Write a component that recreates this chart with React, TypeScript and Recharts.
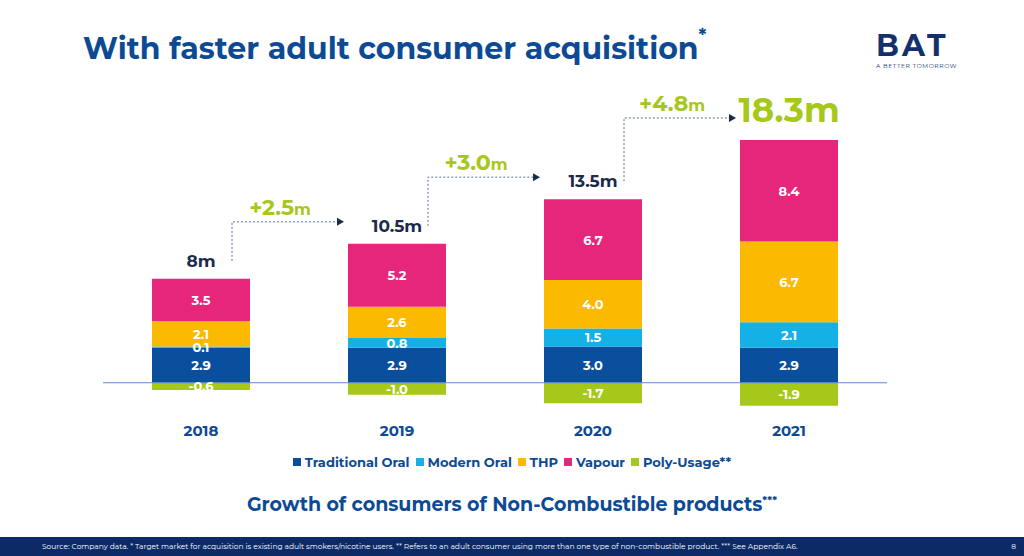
import { BarChart, Bar, XAxis, YAxis, ReferenceLine, LabelList } from 'recharts';

const years = ['2018', '2019', '2020', '2021'];
const traditionalOral = [2.9, 2.9, 3.0, 2.9];
const modernOral = [0.1, 0.8, 1.5, 2.1];
const thp = [2.1, 2.6, 4.0, 6.7];
const vapour = [3.5, 5.2, 6.7, 8.4];
const polyUsage = [-0.6, -1.0, -1.7, -1.9];
const totals = ['8m', '10.5m', '13.5m', '18.3m'];
const growth = ['+2.5', '+3.0', '+4.8'];

const data = years.map((year, i) => ({
  year,
  trad: traditionalOral[i],
  modern: modernOral[i],
  thp: thp[i],
  vapour: vapour[i],
  poly: polyUsage[i],
}));

const NAVY = '#0d4a94';
const LIME = '#a6c81a';
const FONT = 'Montserrat, "Open Sans", "Noto Sans", sans-serif';

const posSum = (i) => traditionalOral[i] + modernOral[i] + thp[i] + vapour[i];

const inside = (props) => {
  const { x, y, width, height, value } = props;
  return (
    <text x={x + width / 2} y={y + height / 2} dy={5} textAnchor="middle" fill="#fff" fontSize={13} fontWeight={700} fontFamily={FONT}>
      {Number(value).toFixed(1)}
    </text>
  );
};

const topLabel = (props) => {
  const { x, y, width, height, index } = props;
  const ppu = height / vapour[index];
  const base = y + posSum(index) * ppu;
  const cx = x + width / 2;
  const last = index === years.length - 1;
  const els = [
    <text key="t" x={cx} y={last ? y - 18 : y - 12} textAnchor="middle" fill={last ? LIME : '#1c2b4a'} fontSize={last ? 34 : 17} fontWeight={700} fontFamily={FONT}>
      {totals[index]}
    </text>,
  ];
  if (!last) {
    const ax = cx + 31;
    const nextTop = base - posSum(index + 1) * ppu;
    const hy = nextTop - 22;
    const endX = x + 196 - 4;
    els.push(
      <path key="a" d={`M${ax},${y - 18} V${hy} H${endX - 6}`} fill="none" stroke="#5a6f95" strokeWidth={1} strokeDasharray="2 2" />,
      <path key="h" d={`M${endX - 7},${hy - 4} L${endX},${hy} L${endX - 7},${hy + 4} Z`} fill="#1c2b4a" />,
      <text key="g" x={ax + 48} y={hy - 7} textAnchor="middle" fill={LIME} fontFamily={FONT} fontWeight={700}>
        <tspan fontSize={22}>{growth[index]}</tspan>
        <tspan fontSize={16}>m</tspan>
      </text>,
    );
  }
  return <g>{els}</g>;
};

const legendItems = [
  ['Traditional Oral', '#0a4f9e'],
  ['Modern Oral', '#14b1e7'],
  ['THP', '#fbb900'],
  ['Vapour', '#e5267b'],
  ['Poly-Usage**', '#a6c81a'],
];

export default function App() {
  return (
    <div style={{ position: 'fixed', left: 0, top: 0, width: 1024, height: 556, background: '#fff', fontFamily: FONT, overflow: 'hidden' }}>
      <div style={{ position: 'absolute', left: 83, top: 30, color: NAVY, fontSize: 30, fontWeight: 700, whiteSpace: 'nowrap' }}>
        With faster adult consumer acquisition<sup style={{ fontSize: 18, verticalAlign: 'top', position: 'relative', top: -6 }}>*</sup>
      </div>
      <div style={{ position: 'absolute', left: 876, top: 30, color: '#14306b', textAlign: 'left' }}>
        <div style={{ fontSize: 30, fontWeight: 700, letterSpacing: 3, lineHeight: '32px' }}>BAT</div>
        <div style={{ fontSize: 6, letterSpacing: 0.6, whiteSpace: 'nowrap' }}>A BETTER TOMORROW</div>
      </div>
      <div style={{ position: 'absolute', left: 0, top: 0 }}>
        <BarChart width={1024} height={556} data={data} stackOffset="sign" barSize={98} margin={{ top: 117, right: 137, left: 103, bottom: 107 }}>
          <XAxis dataKey="year" axisLine={false} tickLine={false} height={30} tick={{ fill: NAVY, fontSize: 15, fontWeight: 700, fontFamily: FONT }} dy={-2} />
          <YAxis hide domain={[-3, 22]} width={0} />
          <Bar dataKey="poly" stackId="s" fill="#a6c81a" isAnimationActive={false}>
            <LabelList dataKey="poly" content={inside} />
          </Bar>
          <Bar dataKey="trad" stackId="s" fill="#0a4f9e" isAnimationActive={false}>
            <LabelList dataKey="trad" content={inside} />
          </Bar>
          <Bar dataKey="modern" stackId="s" fill="#14b1e7" isAnimationActive={false}>
            <LabelList dataKey="modern" content={inside} />
          </Bar>
          <Bar dataKey="thp" stackId="s" fill="#fbb900" isAnimationActive={false}>
            <LabelList dataKey="thp" content={inside} />
          </Bar>
          <Bar dataKey="vapour" stackId="s" fill="#e5267b" isAnimationActive={false}>
            <LabelList dataKey="vapour" content={inside} />
            <LabelList dataKey="vapour" content={topLabel} />
          </Bar>
          <ReferenceLine y={0} stroke="#5b8fc7" strokeWidth={1.2} />
        </BarChart>
      </div>
      <div style={{ position: 'absolute', left: 0, width: 1024, top: 454, display: 'flex', justifyContent: 'center', gap: 6, fontSize: 13, fontWeight: 700, color: NAVY }}>
        {legendItems.map(([name, c]) => (
          <span key={name} style={{ display: 'flex', alignItems: 'center', gap: 4 }}>
            <span style={{ width: 8, height: 8, background: c, display: 'inline-block' }} />
            {name}
          </span>
        ))}
      </div>
      <div style={{ position: 'absolute', left: 0, width: 1024, top: 493, textAlign: 'center', fontSize: 19, fontWeight: 700, color: NAVY }}>
        Growth of consumers of Non-Combustible products<sup style={{ fontSize: 11 }}>***</sup>
      </div>
      <div style={{ position: 'absolute', left: 0, top: 537, width: 1024, height: 19, background: '#0b2a66', color: '#fff', fontSize: 7.5, display: 'flex', alignItems: 'center' }}>
        <span style={{ marginLeft: 42 }}>
          Source: Company data. * Target market for acquisition is existing adult smokers/nicotine users. **  Refers to an adult consumer using more than one type of non-combustible product. *** See Appendix A6.
        </span>
        <span style={{ position: 'absolute', right: 8 }}>8</span>
      </div>
    </div>
  );
}
